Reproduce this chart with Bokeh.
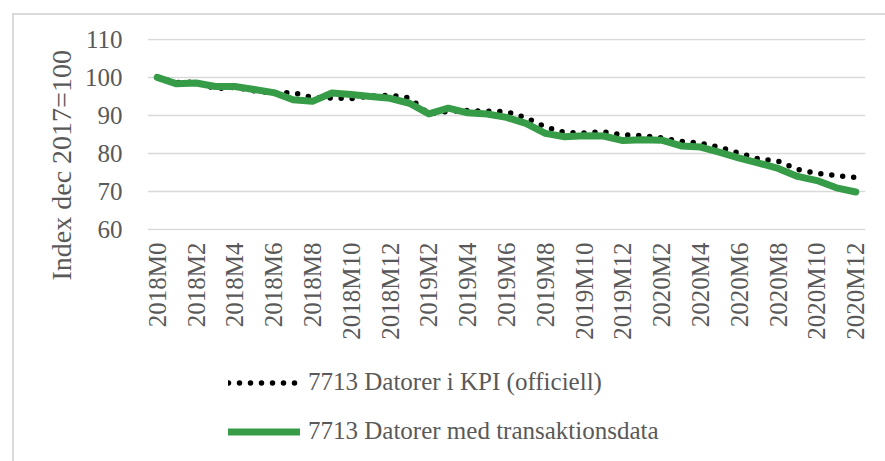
import math
from bokeh.plotting import figure
from bokeh.layouts import column
from bokeh.models import Range1d, FixedTicker, Legend, LegendItem, Title, Div
from bokeh.embed import file_html
from bokeh.resources import INLINE

categories = [
    "2018M0", "2018M1", "2018M2", "2018M3", "2018M4", "2018M5", "2018M6",
    "2018M7", "2018M8", "2018M9", "2018M10", "2018M11", "2018M12",
    "2019M1", "2019M2", "2019M3", "2019M4", "2019M5", "2019M6",
    "2019M7", "2019M8", "2019M9", "2019M10", "2019M11", "2019M12",
    "2020M1", "2020M2", "2020M3", "2020M4", "2020M5", "2020M6",
    "2020M7", "2020M8", "2020M9", "2020M10", "2020M11", "2020M12",
]

kpi_official = [
    100.0, 98.6, 98.8, 97.0, 97.4, 96.5, 95.9, 96.0, 94.7, 94.6, 94.4, 95.1, 95.3,
    94.6, 90.4, 91.1, 91.3, 91.1, 91.0, 89.4, 87.0, 85.5, 85.4, 85.7, 84.9,
    84.7, 84.1, 83.2, 82.7, 81.6, 80.1, 78.6, 78.0, 75.8, 74.8, 74.2, 73.7,
]

transaction_data = [
    100.0, 98.3, 98.5, 97.6, 97.6, 96.8, 96.0, 94.1, 93.7, 95.9, 95.5, 95.0, 94.5,
    93.2, 90.4, 91.9, 90.7, 90.4, 89.5, 87.9, 85.3, 84.4, 84.7, 84.6, 83.4,
    83.6, 83.5, 82.0, 81.7, 80.3, 78.8, 77.5, 76.1, 74.0, 72.9, 71.0, 69.9,
]

y_ticks = [60, 70, 80, 90, 100, 110]
x_tick_positions = list(range(0, len(categories), 2))

series_names = [
    "7713 Datorer i KPI (officiell)",
    "7713 Datorer med transaktionsdata",
]
y_title = "Index dec 2017=100"

FONT = "Liberation Serif"
TEXT = "#595959"
GRID = "#d9d9d9"
GREEN = "#379c47"

KPI_STYLE = dict(line_color="black", line_width=5.5, line_dash="0 11",
                 line_cap="round", line_join="round")
TRANS_STYLE = dict(line_color=GREEN, line_width=7, line_cap="round",
                   line_join="round")

x = list(range(len(categories)))

# ---- main chart ----
p = figure(
    width=877, height=345, output_backend="svg", toolbar_location=None,
    x_range=Range1d(-0.5, len(categories) - 0.5),
    y_range=Range1d(59.8, 110.2),
    min_border_left=147, min_border_right=12, min_border_top=38,
    min_border_bottom=115,
)
p.outline_line_color = None
p.background_fill_color = "white"
p.border_fill_color = "white"

p.xgrid.grid_line_color = None
p.ygrid.grid_line_color = GRID
p.ygrid.grid_line_width = 1.5

p.yaxis.ticker = FixedTicker(ticks=y_ticks)
p.xaxis.ticker = FixedTicker(ticks=x_tick_positions)
p.xaxis.major_label_overrides = {i: categories[i] for i in x_tick_positions}
p.xaxis.major_label_orientation = math.pi / 2

for ax in (p.xaxis[0], p.yaxis[0]):
    ax.axis_line_color = None
    ax.major_tick_line_color = None
    ax.minor_tick_line_color = None
    ax.major_tick_out = 0
    ax.major_tick_in = 0
    ax.minor_tick_out = 0
    ax.major_label_text_font = FONT
    ax.major_label_text_font_size = "25px"
    ax.major_label_text_color = TEXT
p.yaxis.major_label_standoff = 25
p.xaxis.major_label_standoff = 12

p.add_layout(Title(text=y_title, align="left", offset=-50, text_font=FONT,
                   text_font_size="28px", text_color=TEXT,
                   text_font_style="normal"), "left")

p.line(x, kpi_official, **KPI_STYLE)
p.line(x, transaction_data, **TRANS_STYLE)

# ---- legend strip (same series, drawn outside its view; only legend visible) ----
q = figure(
    width=877, height=108, output_backend="svg", toolbar_location=None,
    x_range=Range1d(1000, 1001), y_range=Range1d(1000, 1001),
    x_axis_type=None, y_axis_type=None,
    min_border_left=0, min_border_right=0, min_border_top=0, min_border_bottom=0,
)
q.outline_line_color = None
q.xgrid.grid_line_color = None
q.ygrid.grid_line_color = None
q1 = q.line(x, kpi_official, **KPI_STYLE)
q2 = q.line(x, transaction_data, **TRANS_STYLE)

legend = Legend(
    items=[LegendItem(label=series_names[0], renderers=[q1]),
           LegendItem(label=series_names[1], renderers=[q2])],
    orientation="vertical", location=(81, 8),
    padding=0, margin=0, spacing=21,
    glyph_width=72, glyph_height=25, label_height=25,
    label_standoff=8,
    label_text_font=FONT, label_text_font_size="25px", label_text_color=TEXT,
    border_line_color=None, background_fill_alpha=0,
)
q.add_layout(legend, "center")

# chart-area border (only its top and left edges are inside the window)
frame_border = Div(
    text="", width=877, height=451,
    styles={"position": "absolute", "left": "7px", "top": "8px",
            "border-left": "2px solid #d9d9d9", "border-top": "2px solid #d9d9d9",
            "pointer-events": "none", "z-index": "10"},
)

layout = column(p, q, frame_border, spacing=0)
open("out.html", "w").write(file_html(layout, INLINE))
